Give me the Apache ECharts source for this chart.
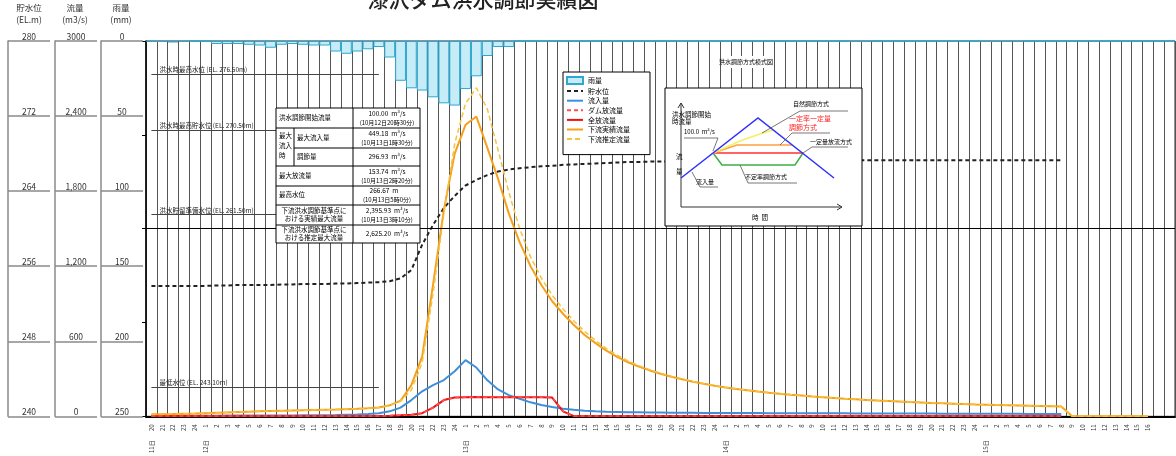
<!DOCTYPE html>
<html>
<head>
<meta charset="utf-8">
<script src="https://cdn.jsdelivr.net/npm/echarts@6/dist/echarts.min.js"></script>
<style>
  html, body { margin: 0; padding: 0; background: #fff; }
  #chart { width: 1176px; height: 456px; }
</style>
</head>
<body>
<div id="chart"></div>
<script>
// 時間軸（11日20時 〜 15日18時）
const dayLabels = ['11日', '12日', '13日', '14日', '15日'];
const dayFirstHour = [20, 1, 1, 1, 1];
const dayLastHour = [24, 24, 24, 24, 18];

// 左側の目盛
const levelTicks = ['240', '248', '256', '264', '272', '280'];
const flowTicks = ['0', '600', '1,200', '1,800', '2,400', '3000'];
const rainTicks = ['0', '50', '100', '150', '200', '250'];

// 時間雨量 (mm)
const rain = [0.5, 0.5, 1, 0.5, 0, 0, 2, 2, 2, 2.5,
  3, 4.5, 2.5, 2, 2.5, 3, 3, 7, 8.5, 7,
  5.5, 4, 11, 26.5, 31.5, 33, 37.5, 41.5, 43, 32,
  23.5, 10, 4, 4, 0, 0, 0, 0, 0, 0,
  0, 0, 0, 0, 0, 0, 0, 0, 0, 0,
  0, 0, 0, 0, 0, 0, 0, 0, 0, 0,
  0, 0, 0, 0, 0, 0.5, 0.5, 0, 0, 0,
  0, 0, 0, 0, 0, 0, 0, 0.5, 0.5, 0.5,
  0.5, 0, 0, 0, 0, 0, 0, 0, 0, 0,
  0, 0, 0, 0, 0];

// 貯水位 (EL.m)
const level = [253.9, 253.9, 253.9, 253.9, 253.9, 253.9, 253.95, 253.95, 254.0, 254.0,
  254.0, 254.0, 254.05, 254.05, 254.1, 254.1, 254.1, 254.15, 254.15, 254.2,
  254.25, 254.3, 254.4, 254.7, 255.6, 258.3, 260.4, 262.2, 263.5, 264.6,
  265.2, 265.7, 266.1, 266.3, 266.45, 266.55, 266.65, 266.7, 266.8, 266.85,
  266.9, 266.95, 267.0, 267.05, 267.1, 267.1, 267.15, 267.15, 267.2, 267.2,
  267.2, 267.25, 267.25, 267.25, 267.3, 267.3, 267.3, 267.3, 267.3, 267.3,
  267.3, 267.3, 267.3, 267.3, 267.3, 267.3, 267.3, 267.3, 267.3, 267.3,
  267.3, 267.3, 267.3, 267.3, 267.3, 267.3, 267.3, 267.3, 267.3, 267.3,
  267.3, 267.3, 267.3, 267.3, 267.3, null, null, null, null, null,
  null, null, null, null, null];

// 流入量 (m3/s)
const inflow = [5, 5, 5, 5, 5, 5, 5, 6, 6, 6,
  6, 7, 7, 7, 8, 8, 9, 10, 12, 14,
  18, 25, 40, 70, 130, 200, 250, 290, 360, 449,
  390, 290, 215, 170, 140, 112, 90, 74, 60, 52,
  45, 40, 37, 35, 33, 32, 31, 30, 29, 28,
  28, 27, 27, 27, 26, 26, 26, 25, 25, 25,
  25, 24, 24, 24, 24, 23, 23, 23, 23, 22,
  22, 22, 22, 21, 21, 21, 21, 20, 20, 20,
  20, 19, 19, 19, 19, null, null, null, null, null,
  null, null, null, null, null];

// ダム放流量 (m3/s)
const damOut = [2, 2, 2, 2, 2, 2, 2, 2, 2, 2,
  2, 2, 2, 2, 2, 2, 2, 2, 2, 2,
  2, 3, 5, 8, 12, 25, 70, 130, 150, 152,
  153.7, 153.5, 153.5, 153.5, 153.5, 153.5, 153, 150, 40, 2,
  2, 2, 2, 2, 2, 2, 2, 2, 2, 2,
  2, 2, 2, 2, 2, 2, 2, 2, 2, 2,
  2, 2, 2, 2, 2, 2, 2, 2, 2, 2,
  2, 2, 2, 2, 2, 2, 2, 2, 2, 2,
  2, 2, 2, 2, 2, null, null, null, null, null,
  null, null, null, null, null];

// 全放流量 (m3/s)
const totalOut = [2, 2, 2, 2, 2, 2, 2, 2, 2, 2,
  2, 2, 2, 2, 2, 2, 2, 2, 2, 2,
  2, 3, 5, 8, 12, 25, 70, 130, 150, 152,
  153.7, 153.5, 153.5, 153.5, 153.5, 153.5, 153, 150, 40, 2,
  2, 2, 2, 2, 2, 2, 2, 2, 2, 2,
  2, 2, 2, 2, 2, 2, 2, 2, 2, 2,
  2, 2, 2, 2, 2, 2, 2, 2, 2, 2,
  2, 2, 2, 2, 2, 2, 2, 2, 2, 2,
  2, 2, 2, 2, 2, null, null, null, null, null,
  null, null, null, null, null];

// 下流実績流量 (m3/s)
const actualDown = [16, 17, 18, 20, 22, 25, 28, 31, 34, 37,
  40, 42, 44, 46, 48, 50, 52, 54, 57, 60,
  64, 70, 88, 125, 250, 480, 1050, 1650, 2100, 2330,
  2396, 2150, 1900, 1620, 1390, 1200, 1050, 920, 820, 730,
  650, 585, 525, 475, 432, 397, 367, 341, 317, 296,
  277, 260, 245, 231, 219, 208, 198, 189, 181, 173,
  166, 159, 153, 147, 141, 136, 131, 126, 122, 118,
  114, 111, 107, 104, 101, 98, 95, 93, 91, 89,
  87, 85, 83, 81, 79, 0, 0, 0, 0, 0,
  0, 0, 0, null, null];

// 下流推定流量 (m3/s)
const estimatedDown = [16, 17, 18, 20, 22, 25, 28, 31, 34, 37,
  40, 42, 44, 46, 48, 50, 52, 54, 57, 60,
  64, 70, 88, 120, 210, 430, 980, 1620, 2180, 2500,
  2625, 2460, 2130, 1790, 1500, 1275, 1105, 968, 858, 762,
  678, 607, 542, 488, 443, 405, 373, 345, 320, 298,
  279, 261, 246, 232, 220, 209, 199, 190, 182, 174,
  167, 160, 154, 148, 142, 137, 132, 127, 123, 119,
  115, 112, 108, 105, 102, 99, 96, 94, 92, 90,
  88, 86, 84, 82, 80, 0, 0, 0, 0, 0,
  0, 0, 0, null, null];

// 基準水位の線
const refLevels = [276.5, 270.5, 261.5, 243.1];
const refNames = ['洪水時最高水位 (EL. 276.50m)', '洪水時最高貯水位 (EL. 270.50m)', '洪水貯留準備水位 (EL. 261.50m)', '最低水位 (EL. 243.10m)'];

const FONT = '"Noto Sans CJK JP", "Noto Sans", sans-serif';

let hours = [];
let dayAt = {};
for (let d = 0; d < dayLabels.length; d++) {
  dayAt[hours.length] = dayLabels[d];
  for (let h = dayFirstHour[d]; h <= dayLastHour[d]; h++) hours.push(String(h));
}
const lastLabel = 92;

function line(points, color, w, dash) {
  return { type: 'polyline', z: 101, silent: true, shape: { points: points },
    style: { stroke: color, lineWidth: w || 1, fill: null, lineDash: dash || null } };
}
function txt(x, y, text, size, align, color) {
  return { type: 'text', z: 102, silent: true, x: x, y: y,
    style: { text: text, fontSize: size || 6.5, fontFamily: FONT, fill: color || '#000',
      align: align || 'left', verticalAlign: 'middle' } };
}
function box(x, y, w, h) {
  return { type: 'rect', z: 100, silent: true, shape: { x: x, y: y, width: w, height: h },
    style: { fill: '#fff', stroke: '#000', lineWidth: 1 } };
}

// 実績表
let table = [
  box(276, 108, 144, 135),
  line([[276, 128], [420, 128]], '#000'),
  line([[294, 148], [420, 148]], '#000'),
  line([[276, 166], [420, 166]], '#000'),
  line([[276, 186], [420, 186]], '#000'),
  line([[276, 205], [420, 205]], '#000'),
  line([[276, 225], [420, 225]], '#000'),
  line([[353, 108], [353, 243]], '#000'),
  line([[294, 128], [294, 166]], '#000'),
  txt(279, 118, '洪水調節開始流量'),
  txt(279, 136, '最大'), txt(279, 146, '流入'), txt(279, 156, '時'),
  txt(297, 138, '最大流入量'), txt(297, 157, '調節量'),
  txt(279, 176, '最大放流量'), txt(279, 195, '最高水位'),
  txt(314, 211, '下流洪水調節基準点に', 6.5, 'center'), txt(314, 219, 'おける実績最大流量', 6.5, 'center'),
  txt(314, 230, '下流洪水調節基準点に', 6.5, 'center'), txt(314, 238, 'おける推定最大流量', 6.5, 'center'),
  txt(387, 114, '100.00  m³/s', 6.5, 'center'), txt(387, 123, '(10月12日20時30分)', 6, 'center'),
  txt(387, 134, '449.18  m³/s', 6.5, 'center'), txt(387, 143, '(10月13日1時30分)', 6, 'center'),
  txt(387, 157, '296.93  m³/s', 6.5, 'center'),
  txt(387, 172, '153.74  m³/s', 6.5, 'center'), txt(387, 181, '(10月13日2時20分)', 6, 'center'),
  txt(384, 191, '266.67  m', 6.5, 'center'), txt(387, 200, '(10月13日5時0分)', 6, 'center'),
  txt(387, 211, '2,395.93  m³/s', 6.5, 'center'), txt(387, 220, '(10月13日3時10分)', 6, 'center'),
  txt(387, 234, '2,625.20  m³/s', 6.5, 'center')
];

// 洪水調節方式模式図
let diagram = [
  { type: 'rect', z: 100, silent: true, shape: { x: 722, y: 56, width: 48, height: 12 }, style: { fill: '#fff' } },
  txt(746, 62, '洪水調節方式模式図', 6, 'center'),
  box(665, 88, 197, 138),
  line([[681, 207], [681, 103]], '#333'), line([[678, 108], [681, 103], [684, 108]], '#333'),
  line([[681, 207], [842, 207]], '#333'), line([[837, 204], [842, 207], [837, 210]], '#333'),
  line([[713, 153], [722, 165], [795, 165], [803, 153]], '#3cb043', 1.5),
  line([[713, 153], [803, 153]], '#ff3030', 1.5),
  line([[713, 153], [737, 145], [792, 145]], '#ffa040', 1.5),
  line([[713, 153], [740, 141], [760, 134], [773, 130]], '#f5f060', 1.5),
  line([[681, 178], [758, 118], [834, 178]], '#3030ff', 1.5),
  line([[684, 138], [718, 138], [713, 151]], '#555', 0.8),
  line([[762, 133], [800, 111], [848, 111]], '#555', 0.8),
  line([[780, 145], [792, 133], [830, 133]], '#555', 0.8),
  line([[803, 153], [812, 147], [848, 147]], '#555', 0.8),
  line([[740, 165], [748, 183], [797, 183]], '#555', 0.8),
  line([[692, 172], [700, 187], [718, 187]], '#555', 0.8),
  txt(672, 115, '洪水調節開始'), txt(672, 122, '時流量'),
  txt(684, 132, '100.0  m³/s', 6),
  txt(676, 157, '流'), txt(676, 172, '量'),
  txt(760, 218, '時  間', 6.5, 'center'),
  txt(811, 104, '自然調節方式', 6, 'center'),
  txt(789, 118, '一定率一定量', 7, 'left', '#ff2020'),
  txt(789, 127, '調節方式', 7, 'left', '#ff2020'),
  txt(831, 142, '一定量放流方式', 6, 'center'),
  txt(766, 177, '不定率調節方式', 6, 'center'),
  txt(705, 182, '流入量', 6, 'center')
];

// 見出し
let headers = [
  { type: 'text', x: 483, y: -1, silent: true,
    style: { text: '漆沢ダム洪水調節実績図', fontSize: 21, fontFamily: FONT, fontWeight: 500, fill: '#222', align: 'center', verticalAlign: 'middle' } },
  txt(29, 8, '貯水位', 8.5, 'center', '#333'), txt(29, 20, '(EL.m)', 8.5, 'center', '#333'),
  txt(75, 8, '流量', 8.5, 'center', '#333'), txt(75, 20, '(m3/s)', 8.5, 'center', '#333'),
  txt(121, 8, '雨量', 8.5, 'center', '#333'), txt(121, 20, '(mm)', 8.5, 'center', '#333')
];

function sideAxis(min, max, interval, offset, labels, inverse) {
  return {
    type: 'value', position: 'left', offset: offset, min: min, max: max, interval: interval, inverse: !!inverse,
    axisLine: { show: true, lineStyle: { color: '#8a8a8a', width: 1.5 } },
    axisTick: { show: true, inside: true, length: 42, lineStyle: { color: '#8a8a8a', width: 1.5 } },
    axisLabel: { inside: true, margin: 21, align: 'center', verticalAlign: 'bottom', fontSize: 8.5, color: '#333', fontFamily: FONT,
      showMinLabel: true, showMaxLabel: true,
      formatter: function (v) { return labels[Math.round((v - min) / interval)]; } },
    splitLine: { show: false }
  };
}

let refMarks = [{ yAxis: 260, lineStyle: { color: '#000', width: 1, type: 'solid' }, label: { show: false } }];
for (let i = 0; i < refLevels.length; i++) {
  refMarks.push([
    { coord: [0, refLevels[i]], lineStyle: { color: '#444', width: 1, type: 'solid' },
      label: { show: true, position: 'insideStartTop', distance: [8, 1], formatter: refNames[i], fontSize: 6.5, color: '#222', fontFamily: FONT } },
    { coord: [21, refLevels[i]] }
  ]);
}

const noDot = { opacity: 0 };
const chart = echarts.init(document.getElementById('chart'), null, { renderer: 'canvas' });
chart.setOption({
  animation: false,
  textStyle: { fontFamily: FONT },
  grid: { left: 146, right: 1, top: 41, bottom: 39, show: true, borderColor: '#222', borderWidth: 1 },
  legend: {
    orient: 'vertical', left: 563, top: 72, itemWidth: 16, itemHeight: 7, itemGap: 2.6,
    padding: [4, 20, 12, 3], backgroundColor: '#fff', borderColor: '#000', borderWidth: 1,
    textStyle: { fontSize: 7, color: '#000', fontFamily: FONT },
    data: [{ name: '雨量', icon: 'rect' },
      { name: '貯水位', itemStyle: noDot }, { name: '流入量', itemStyle: noDot },
      { name: 'ダム放流量', itemStyle: noDot }, { name: '全放流量', itemStyle: noDot },
      { name: '下流実績流量', itemStyle: noDot }, { name: '下流推定流量', itemStyle: noDot }]
  },
  xAxis: [
    { type: 'category', data: hours, boundaryGap: true,
      axisLine: { lineStyle: { color: '#000', width: 2 } }, axisTick: { show: false },
      splitLine: { show: true, interval: 0, lineStyle: { color: '#555', width: 1 } },
      axisLabel: { interval: 0, rotate: 90, fontSize: 6, margin: 8, color: '#333',
        formatter: function (v, i) { return i > lastLabel ? '' : v; } } },
    { type: 'category', data: hours, boundaryGap: true, position: 'bottom', offset: 22,
      axisLine: { show: false }, axisTick: { show: false }, splitLine: { show: false },
      axisLabel: { interval: 0, rotate: 90, fontSize: 6, margin: 2, color: '#333',
        formatter: function (v, i) { return dayAt[i] || ''; } } }
  ],
  yAxis: [
    { type: 'value', min: 240, max: 280, interval: 10,
      axisLine: { show: true, lineStyle: { color: '#000', width: 1.5 } },
      axisTick: { show: true, length: 4, lineStyle: { color: '#000' } },
      axisLabel: { show: false }, splitLine: { show: false } },
    { type: 'value', min: 0, max: 3000, show: false },
    { type: 'value', min: 0, max: 250, inverse: true, show: false },
    sideAxis(240, 280, 8, 138, levelTicks),
    sideAxis(0, 3000, 600, 91, flowTicks),
    sideAxis(0, 250, 50, 45, rainTicks, true)
  ],
  graphic: headers.concat(table, diagram),
  series: [
    { name: '雨量', type: 'bar', yAxisIndex: 2, data: rain, barWidth: '100%',
      itemStyle: { color: '#c6ecf7', borderColor: '#2ea8d0', borderWidth: 1 } },
    { name: '貯水位', type: 'line', yAxisIndex: 0, data: level, symbol: 'none', connectNulls: false,
      lineStyle: { color: '#222', width: 2, type: [4, 3] }, itemStyle: { color: '#333' },
      markLine: { silent: true, symbol: ['none', 'none'], data: refMarks } },
    { name: '流入量', type: 'line', yAxisIndex: 1, data: inflow, symbol: 'none',
      lineStyle: { color: '#3f8fdb', width: 2 }, itemStyle: { color: '#3f8fdb' } },
    { name: '全放流量', type: 'line', yAxisIndex: 1, data: totalOut, symbol: 'none',
      lineStyle: { color: '#f01010', width: 2 }, itemStyle: { color: '#f01010' } },
    { name: 'ダム放流量', type: 'line', yAxisIndex: 1, data: damOut, symbol: 'none',
      lineStyle: { color: '#ff5050', width: 1.5, type: [4, 3] }, itemStyle: { color: '#ff5050' } },
    { name: '下流実績流量', type: 'line', yAxisIndex: 1, data: actualDown, symbol: 'none',
      lineStyle: { color: '#f5a11c', width: 2 }, itemStyle: { color: '#f5a11c' } },
    { name: '下流推定流量', type: 'line', yAxisIndex: 1, data: estimatedDown, symbol: 'none',
      lineStyle: { color: '#f7c23c', width: 1.5, type: [5, 3] }, itemStyle: { color: '#f7c23c' } }
  ]
});
</script>
</body>
</html>
